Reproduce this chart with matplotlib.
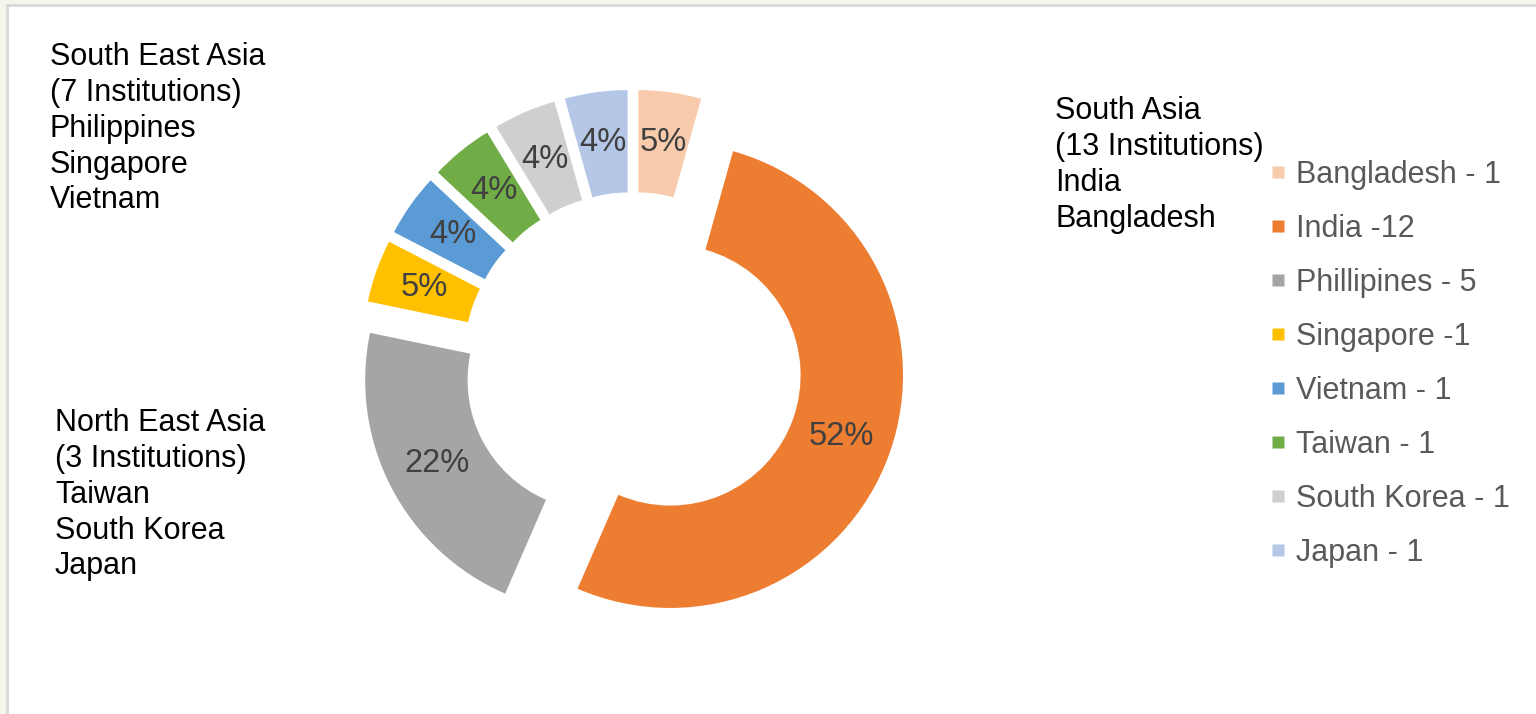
import matplotlib.pyplot as plt
from matplotlib.lines import Line2D
from matplotlib.patches import Rectangle

plt.rcParams['font.family'] = ['Liberation Sans', 'DejaVu Sans']

# institutions per country
countries = ['Bangladesh', 'India', 'Phillipines', 'Singapore',
             'Vietnam', 'Taiwan', 'South Korea', 'Japan']
institutions = [1, 12, 5, 1, 1, 1, 1, 1]
pct_labels = ['5%', '52%', '22%', '5%', '4%', '4%', '4%', '4%']
legend_labels = ['Bangladesh - 1', 'India -12', 'Phillipines - 5', 'Singapore -1',
                 'Vietnam - 1', 'Taiwan - 1', 'South Korea - 1', 'Japan - 1']
colors = ['#F8CBAD', '#ED7D31', '#A5A5A5', '#FFC000',
          '#5B9BD5', '#70AD47', '#D0CECE', '#B4C7E7']

region_notes = [
    'South East Asia\n(7 Institutions)\nPhilippines\nSingapore\nVietnam',
    'North East Asia\n(3 Institutions)\nTaiwan\nSouth Korea\nJapan',
    'South Asia\n(13 Institutions)\nIndia\nBangladesh',
]

W, H = 1536, 714
fig = plt.figure(figsize=(W / 100, H / 100), dpi=100)
fig.patch.set_facecolor('white')

# slide frame along the top and left edges
fig.patches.append(Rectangle((0, 0), 1, 1, transform=fig.transFigure,
                             facecolor='#F4F6EC', edgecolor='none', zorder=-3))
fig.patches.append(Rectangle((6 / W, 0), 1, 1 - 4 / H, transform=fig.transFigure,
                             facecolor='#DADADA', edgecolor='none', zorder=-2))
fig.patches.append(Rectangle((9 / W, 0), 1, 1 - 7 / H, transform=fig.transFigure,
                             facecolor='white', edgecolor='none', zorder=-1))

# donut centre and outer radius in pixels
cx, cy, R = 633, 362, 232.7
ax = fig.add_axes([0, 0, 1, 1])

wedges, texts = ax.pie(
    institutions, colors=colors, startangle=90, counterclock=False,
    explode=[0.17] * len(institutions), radius=1.0,
    wedgeprops=dict(width=0.44, edgecolor='none'),
    labels=pct_labels, labeldistance=0.78,
    textprops=dict(color='#404040', fontsize=23.5))
for t in texts:
    t.set_horizontalalignment('center')
    t.set_verticalalignment('center')
ax.set_xlim(-cx / R, (W - cx) / R)
ax.set_ylim(-(H - cy) / R, cy / R)
ax.set_aspect('auto')
ax.axis('off')

# region annotations
note_pos = [(50, 42), (55, 408), (1055, 96)]
for txt, (x, y) in zip(region_notes, note_pos):
    fig.text(x / W, 1 - y / H, txt, fontsize=22, color='black',
             va='top', ha='left', linespacing=1.255)

handles = [Line2D([], [], marker='s', linestyle='none', markersize=8,
                  markerfacecolor=c, markeredgecolor='none') for c in colors]
leg = fig.legend(handles, legend_labels, loc='upper left',
                 bbox_to_anchor=(1269 / W, 1 - 160 / H), frameon=False,
                 fontsize=22, labelcolor='#595959', handlelength=0.6,
                 handletextpad=0.29, labelspacing=0.785, borderpad=0,
                 borderaxespad=0)

fig.savefig('out.png', dpi=100)
